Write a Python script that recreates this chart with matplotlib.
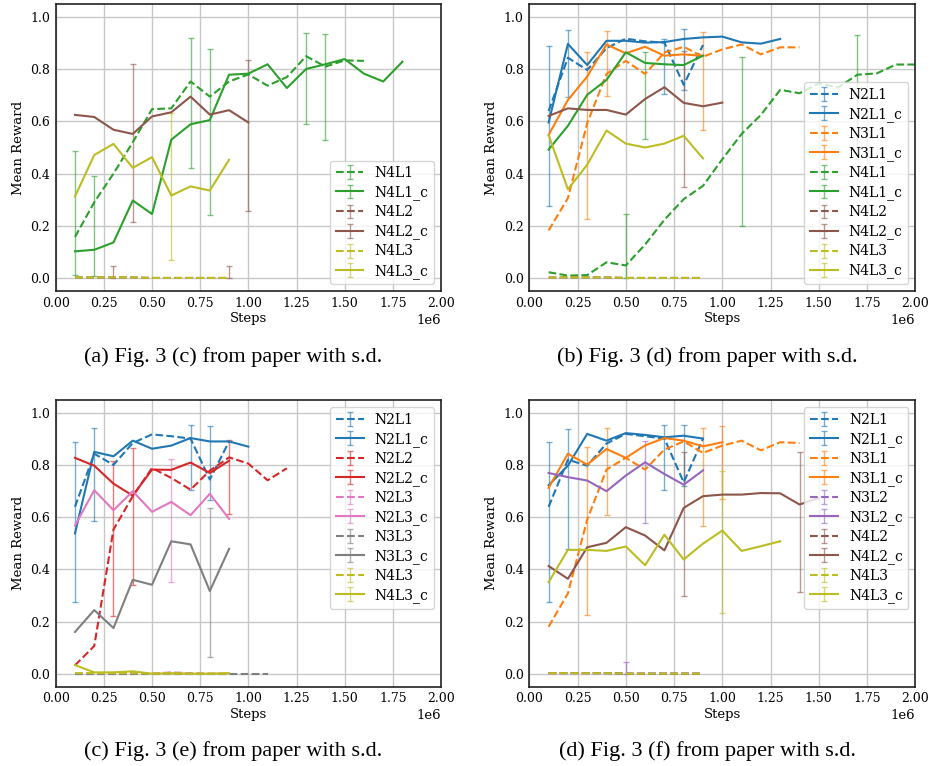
import matplotlib.pyplot as plt
import numpy as np
from matplotlib.colors import to_rgba

plt.rcParams['font.family'] = 'DejaVu Serif'
plt.rcParams['font.size'] = 9

# step grids (x)
s9 = [1e5, 2e5, 3e5, 4e5, 5e5, 6e5, 7e5, 8e5, 9e5]
s10 = s9 + [1e6]
s11 = s10 + [1.1e6]
s12 = s11 + [1.2e6]
s13 = s12 + [1.3e6]
s14 = s13 + [1.4e6]
s15 = s14 + [1.5e6]
s16 = s15 + [1.6e6]
s18 = s16 + [1.7e6, 1.8e6]
s20 = s18 + [1.9e6, 2.0e6]
zeros9 = [0.002, 0.002, 0.002, 0.002, 0.0, 0.0, 0.0, 0.0, 0.0]

# ---- (a) Fig. 3 (c)
a_N4L1 = [0.157, 0.29, 0.40, 0.52, 0.647, 0.65, 0.753, 0.695, 0.753, 0.78, 0.737, 0.77, 0.85, 0.81, 0.834, 0.832]
a_N4L1_c = [0.102, 0.108, 0.136, 0.297, 0.245, 0.53, 0.589, 0.605, 0.779, 0.783, 0.819, 0.728, 0.801, 0.819, 0.839, 0.783, 0.753, 0.829]
a_N4L2 = zeros9
a_N4L2_c = [0.625, 0.617, 0.568, 0.552, 0.619, 0.635, 0.695, 0.626, 0.643, 0.596]
a_N4L3 = zeros9
a_N4L3_c = [0.312, 0.471, 0.514, 0.422, 0.463, 0.316, 0.351, 0.335, 0.453]
a_err_N4L1 = {7e5: (0.42, 0.921), 13e5: (0.589, 0.939), 14e5: (0.527, 0.936)}
a_err_N4L1_c = {1e5: (0.013, 0.485), 2e5: (0.006, 0.392), 8e5: (0.242, 0.876)}
a_err_N4L2 = {3e5: (0.0, 0.045), 9e5: (0.0, 0.045)}
a_err_N4L2_c = {4e5: (0.213, 0.821), 1e6: (0.255, 0.835)}
a_err_N4L3_c = {6e5: (0.068, 0.634)}

# ---- (b) Fig. 3 (d)
b_N2L1 = [0.64, 0.844, 0.797, 0.881, 0.917, 0.907, 0.902, 0.74, 0.893]
b_N2L1_c = [0.596, 0.897, 0.816, 0.909, 0.909, 0.902, 0.904, 0.916, 0.922, 0.925, 0.903, 0.898, 0.916]
b_N3L1 = [0.182, 0.306, 0.593, 0.782, 0.832, 0.782, 0.864, 0.886, 0.848, 0.876, 0.895, 0.857, 0.884, 0.884]
b_N3L1_c = [0.548, 0.682, 0.772, 0.895, 0.861, 0.886, 0.852, 0.857, 0.851]
b_N4L1 = [0.022, 0.009, 0.011, 0.06, 0.048, 0.128, 0.223, 0.302, 0.353, 0.455, 0.552, 0.625, 0.721, 0.708, 0.746, 0.73, 0.779, 0.784, 0.818, 0.818]
b_N4L1_c = [0.492, 0.583, 0.702, 0.759, 0.865, 0.824, 0.819, 0.816, 0.852]
b_N4L2 = zeros9
b_N4L2_c = [0.621, 0.65, 0.644, 0.644, 0.626, 0.686, 0.731, 0.671, 0.658, 0.672]
b_N4L3 = zeros9
b_N4L3_c = [0.548, 0.34, 0.434, 0.565, 0.515, 0.50, 0.515, 0.545, 0.458]
b_err_N2L1 = {2e5: (0.695, 0.949), 8e5: (0.72, 0.955)}
b_err_N2L1_c = {1e5: (0.276, 0.889), 7e5: (0.704, 0.916)}
b_err_N3L1 = {3e5: (0.226, 0.867), 9e5: (0.568, 0.944)}
b_err_N3L1_c = {4e5: (0.699, 0.948)}
b_err_N4L1 = {5e5: (0.0, 0.247), 1.1e6: (0.2, 0.846), 1.7e6: (0.455, 0.932)}
b_err_N4L1_c = {6e5: (0.533, 0.865)}
b_err_N4L2_c = {8e5: (0.347, 0.87)}

# ---- (c) Fig. 3 (e)
c_N2L1 = [0.64, 0.844, 0.801, 0.885, 0.918, 0.911, 0.902, 0.745, 0.891]
c_N2L1_c = [0.538, 0.851, 0.834, 0.894, 0.863, 0.875, 0.904, 0.891, 0.891, 0.871]
c_N2L2 = [0.032, 0.106, 0.553, 0.681, 0.789, 0.751, 0.706, 0.779, 0.83, 0.806, 0.742, 0.788]
c_N2L2_c = [0.828, 0.798, 0.729, 0.683, 0.783, 0.782, 0.81, 0.77, 0.817]
c_N2L3 = [0.0, 0.0, 0.002, 0.002, 0.0, 0.005, 0.002, 0.0, 0.0]
c_N2L3_c = [0.568, 0.704, 0.627, 0.70, 0.621, 0.659, 0.608, 0.69, 0.594]
c_N3L3 = [0.0, 0.0, 0.0, 0.0, 0.0, 0.0, 0.0, 0.0, 0.0, 0.0, 0.0]
c_N3L3_c = [0.16, 0.244, 0.175, 0.36, 0.341, 0.508, 0.496, 0.317, 0.479]
c_N4L3 = zeros9
c_N4L3_c = [0.033, 0.005, 0.005, 0.009, 0.0, 0.002, 0.0, 0.0, 0.002]
c_err_N2L1 = {7e5: (0.706, 0.954), 8e5: (0.668, 0.951)}
c_err_N2L1_c = {1e5: (0.276, 0.889), 2e5: (0.585, 0.941)}
c_err_N2L2 = {3e5: (0.221, 0.817)}
c_err_N2L2_c = {4e5: (0.342, 0.866), 9e5: (0.613, 0.898)}
c_err_N2L3_c = {6e5: (0.352, 0.822)}
c_err_N3L3_c = {8e5: (0.065, 0.636)}

# ---- (d) Fig. 3 (f)
d_N2L1 = [0.64, 0.821, 0.798, 0.883, 0.92, 0.911, 0.902, 0.734, 0.902]
d_N2L1_c = [0.723, 0.798, 0.92, 0.894, 0.923, 0.916, 0.907, 0.913, 0.902]
d_N3L1 = [0.18, 0.308, 0.591, 0.783, 0.828, 0.783, 0.86, 0.891, 0.847, 0.875, 0.894, 0.857, 0.888, 0.885]
d_N3L1_c = [0.713, 0.844, 0.802, 0.862, 0.828, 0.876, 0.904, 0.894, 0.872, 0.888]
d_N3L2 = zeros9
d_N3L2_c = [0.77, 0.754, 0.741, 0.70, 0.76, 0.811, 0.766, 0.725, 0.78]
d_N4L2 = zeros9
d_N4L2_c = [0.413, 0.364, 0.485, 0.502, 0.562, 0.53, 0.473, 0.636, 0.681, 0.687, 0.687, 0.693, 0.692, 0.649, 0.674]
d_N4L3 = zeros9
d_N4L3_c = [0.351, 0.475, 0.475, 0.471, 0.488, 0.416, 0.533, 0.438, 0.499, 0.549, 0.471, 0.489, 0.508]
d_err_N2L1 = {7e5: (0.706, 0.954), 8e5: (0.72, 0.954)}
d_err_N2L1_c = {1e5: (0.276, 0.889), 2e5: (0.479, 0.939)}
d_err_N3L1 = {3e5: (0.224, 0.868), 9e5: (0.568, 0.944)}
d_err_N3L1_c = {4e5: (0.608, 0.944), 1e6: (0.672, 0.949)}
d_err_N3L2 = {5e5: (0.0, 0.045)}
d_err_N3L2_c = {6e5: (0.579, 0.891)}
d_err_N4L2_c = {8e5: (0.298, 0.849), 1.4e6: (0.314, 0.852)}
d_err_N4L3_c = {1e6: (0.232, 0.779)}

captions = ["(a) Fig. 3 (c) from paper with s.d.", "(b) Fig. 3 (d) from paper with s.d.",
            "(c) Fig. 3 (e) from paper with s.d.", "(d) Fig. 3 (f) from paper with s.d."]

panels = [
    [("N4L1", "C2", "--", s16, a_N4L1, a_err_N4L1),
     ("N4L1_c", "C2", "-", s18, a_N4L1_c, a_err_N4L1_c),
     ("N4L2", "C5", "--", s9, a_N4L2, a_err_N4L2),
     ("N4L2_c", "C5", "-", s10, a_N4L2_c, a_err_N4L2_c),
     ("N4L3", "C8", "--", s9, a_N4L3, {}),
     ("N4L3_c", "C8", "-", s9, a_N4L3_c, a_err_N4L3_c)],
    [("N2L1", "C0", "--", s9, b_N2L1, b_err_N2L1),
     ("N2L1_c", "C0", "-", s13, b_N2L1_c, b_err_N2L1_c),
     ("N3L1", "C1", "--", s14, b_N3L1, b_err_N3L1),
     ("N3L1_c", "C1", "-", s9, b_N3L1_c, b_err_N3L1_c),
     ("N4L1", "C2", "--", s20, b_N4L1, b_err_N4L1),
     ("N4L1_c", "C2", "-", s9, b_N4L1_c, b_err_N4L1_c),
     ("N4L2", "C5", "--", s9, b_N4L2, {}),
     ("N4L2_c", "C5", "-", s10, b_N4L2_c, b_err_N4L2_c),
     ("N4L3", "C8", "--", s9, b_N4L3, {}),
     ("N4L3_c", "C8", "-", s9, b_N4L3_c, {})],
    [("N2L1", "C0", "--", s9, c_N2L1, c_err_N2L1),
     ("N2L1_c", "C0", "-", s10, c_N2L1_c, c_err_N2L1_c),
     ("N2L2", "C3", "--", s12, c_N2L2, c_err_N2L2),
     ("N2L2_c", "C3", "-", s9, c_N2L2_c, c_err_N2L2_c),
     ("N2L3", "C6", "--", s9, c_N2L3, {}),
     ("N2L3_c", "C6", "-", s9, c_N2L3_c, c_err_N2L3_c),
     ("N3L3", "C7", "--", s11, c_N3L3, {}),
     ("N3L3_c", "C7", "-", s9, c_N3L3_c, c_err_N3L3_c),
     ("N4L3", "C8", "--", s9, c_N4L3, {}),
     ("N4L3_c", "C8", "-", s9, c_N4L3_c, {})],
    [("N2L1", "C0", "--", s9, d_N2L1, d_err_N2L1),
     ("N2L1_c", "C0", "-", s9, d_N2L1_c, d_err_N2L1_c),
     ("N3L1", "C1", "--", s14, d_N3L1, d_err_N3L1),
     ("N3L1_c", "C1", "-", s10, d_N3L1_c, d_err_N3L1_c),
     ("N3L2", "C4", "--", s9, d_N3L2, d_err_N3L2),
     ("N3L2_c", "C4", "-", s9, d_N3L2_c, d_err_N3L2_c),
     ("N4L2", "C5", "--", s9, d_N4L2, {}),
     ("N4L2_c", "C5", "-", s15, d_N4L2_c, d_err_N4L2_c),
     ("N4L3", "C8", "--", s9, d_N4L3, {}),
     ("N4L3_c", "C8", "-", s13, d_N4L3_c, d_err_N4L3_c)],
]
legend_loc = ["lower right", "lower right", "upper right", "upper right"]

W, H = 933, 766
# axes boxes in pixels: left, top, right, bottom
boxes = [(55.7, 4, 441, 291), (529.3, 4, 915.3, 291),
         (55.7, 400, 441, 686.7), (529.3, 400, 915.3, 686.7)]
cap_base = [362, 756]


def draw(ax, label, color, ls, x, y, err):
    x = np.asarray(x)
    y = np.asarray(y)
    lo = np.zeros(len(x))
    hi = np.zeros(len(x))
    mask = np.zeros(len(x), bool)
    for xe, (l, h) in err.items():
        i = int(np.argmin(abs(x - xe)))
        lo[i] = max(y[i] - l, 0)
        hi[i] = max(h - y[i], 0)
        mask[i] = True
    ax.errorbar(x, y, yerr=[lo, hi], errorevery=mask, color=color, ls=ls, lw=1.5,
                ecolor=to_rgba(color, 0.6), elinewidth=1, capsize=2, label=label)


fig = plt.figure(figsize=(W / 100, H / 100), dpi=100)
for k, (series, box) in enumerate(zip(panels, boxes)):
    l, t, r, b = box
    ax = fig.add_axes([l / W, 1 - b / H, (r - l) / W, (b - t) / H])
    for s in series:
        draw(ax, *s)
    ax.set_xlim(0, 2e6)
    ax.set_ylim(-0.05, 1.05)
    ax.set_xticks(np.arange(0, 2.01e6, 0.25e6))
    ax.set_yticks([0, 0.2, 0.4, 0.6, 0.8, 1.0])
    ax.grid(True, color="#c8c8c8", lw=1)
    ax.set_axisbelow(True)
    ax.tick_params(length=0, pad=4, labelsize=9)
    for sp in ax.spines.values():
        sp.set_color("#222222")
        sp.set_linewidth(1.2)
    ax.set_xlabel("Steps", fontsize=9.5, labelpad=2)
    ax.set_ylabel("Mean Reward", fontsize=9.5)
    ax.xaxis.get_offset_text().set_fontsize(9.5)
    ax.legend(loc=legend_loc[k], fontsize=10, labelspacing=0.37)
    row = k // 2
    fig.text(((l + r) / 2 - 15) / W, 1 - cap_base[row] / H, captions[k],
             family="Liberation Serif", fontsize=16, ha="center", va="baseline")

fig.savefig("out.png", dpi=100)
